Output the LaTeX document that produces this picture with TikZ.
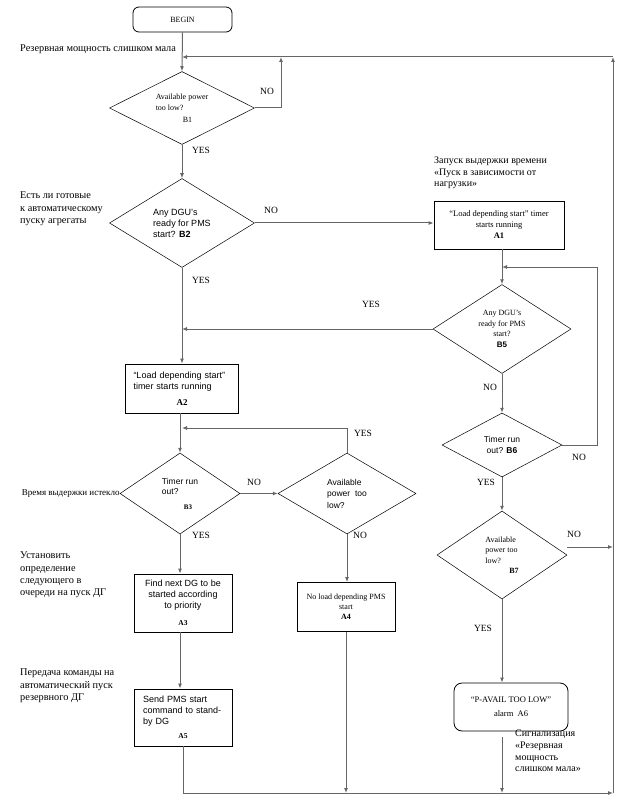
\documentclass[tikz,border=0pt]{standalone}
\usepackage{fontspec}
\setmainfont{Liberation Serif}
\setsansfont{Liberation Sans}
\usetikzlibrary{shapes.geometric,arrows.meta}

\tikzset{
  line/.style={draw=black!60, line width=1pt},
  arr/.style={line, -{Latex[length=5pt,width=4pt]}},
  decision/.style={diamond, draw, line width=0.5pt, inner sep=0pt, aspect=1.6, align=center},
  block/.style={rectangle, draw, line width=0.8pt, inner sep=0pt, align=center},
  terminal/.style={block, rounded corners=6pt},
  lbl/.style={font=\fontsize{9.5}{11}\selectfont},
  note/.style={anchor=north west, align=left, inner sep=0pt, font=\fontsize{10.3}{12.3}\selectfont},
}

\begin{document}
\begin{tikzpicture}[x=1pt,y=-1pt]
\useasboundingbox (0,0) rectangle (624,802);

% left column
\node[terminal, minimum width=99pt, minimum height=25pt, font=\fontsize{8}{9}\selectfont] (begin) at (182.5,19.5) {BEGIN};
\node[decision, minimum width=145pt, minimum height=73pt, align=left, font=\fontsize{8}{11.5}\selectfont] (B1) at (182,108) {Available power\\too low?\\\hspace*{27pt}B1};
\node[decision, minimum width=145pt, minimum height=89pt, align=left, font=\sffamily\fontsize{9}{11}\selectfont] (B2) at (182,223) {Any DGU’s\\ready for PMS\\start? \textbf{B2}};
\node[block, minimum width=113pt, minimum height=49pt, text width=97pt, align=left, font=\sffamily\fontsize{9}{11}\selectfont] (A2) at (182,388.5) {“Load depending start”\\timer starts running\par\vspace{5pt}{\centering\rmfamily\bfseries A2\par}};
\node[decision, minimum width=120pt, minimum height=81pt, align=left, font=\sffamily\fontsize{8.5}{10}\selectfont] (B3) at (180,493.5) {Timer run\\out?\\[5pt]\hspace*{22pt}{\rmfamily\bfseries\fontsize{7}{8}\selectfont B3}};
\node[block, minimum width=98pt, minimum height=58pt, font=\sffamily\fontsize{9}{11}\selectfont] (A3) at (183,603) {Find next DG to be\\started according\\to priority\\[6pt]{\rmfamily\bfseries\fontsize{7.5}{8}\selectfont A3}};
\node[block, minimum width=98pt, minimum height=57pt, text width=80pt, align=left, font=\sffamily\fontsize{9}{11}\selectfont] (A5) at (183,717.5) {Send PMS start\\command to stand-\\by DG\par\vspace{6pt}{\centering\rmfamily\bfseries\fontsize{7.5}{8}\selectfont A5\par}};

% middle column
\node[decision, minimum width=138pt, minimum height=81pt, align=left, font=\sffamily\fontsize{8.5}{11.5}\selectfont] (B4) at (347,493.5) {Available\\power\ \ too\\low?};
\node[block, minimum width=98pt, minimum height=49pt, font=\fontsize{8}{10}\selectfont] (A4) at (346,607) {No load depending PMS\\start\\\textbf{A4}};

% right column
\node[block, minimum width=130pt, minimum height=48pt, font=\fontsize{8.5}{11}\selectfont] (A1) at (499,225) {“Load depending start” timer\\starts running\\\textbf{A1}};
\node[decision, minimum width=138pt, minimum height=89pt, font=\fontsize{8}{10.5}\selectfont] (B5) at (502,329) {Any DGU’s\\ready for PMS\\start?\\\textsf{\textbf{B5}}};
\node[decision, minimum width=120pt, minimum height=64pt, font=\sffamily\fontsize{8.5}{11}\selectfont] (B6) at (502,445) {Timer run\\out? \textbf{B6}};
\node[decision, minimum width=130pt, minimum height=88pt, align=left, font=\fontsize{8}{10.5}\selectfont] (B7) at (502,555) {Available\\power too\\low?\\\hspace*{24pt}\textbf{B7}};
\node[terminal, minimum width=114pt, minimum height=48pt, rounded corners=8pt, font=\fontsize{8.5}{14}\selectfont] (A6) at (511,707) {“P-AVAIL TOO LOW”\\alarm\ \ A6};

% junctions
\coordinate (j1) at (182,57);
\coordinate (b1no) at (281,57);
\coordinate (tr) at (613,57);
\coordinate (br) at (613,793);
\coordinate (j5) at (502,267);
\coordinate (b6no) at (597,267);
\coordinate (j3) at (182,428);

% connectors
\draw[arr] (begin.south) -- (B1.north);
\draw[arr] (br) -- (tr);
\draw[arr] (tr) -- (j1);
\draw[arr] (B1.east) -| (b1no);
\draw[arr] (B1.south) -- (B2.north);
\draw[arr] (B2.east) -- (B2.east -| A1.west);
\draw[arr] (B2.south) -- (B2.south |- A2.north);
\draw[arr] (A1.south -| B5.north) -- (B5.north);
\draw[arr] (B5.west) -- (B5.west -| B2.south);
\draw[arr] (B5.south) -- (B6.north);
\draw[arr] (B6.east) -| (b6no) -- (j5);
\draw[arr] (B6.south) -- (B7.north);
\draw[arr] ([yshift=8pt]B7.east) -- ([yshift=8pt]B7.east -| br);
\draw[arr] (B7.south) -- (B7.south |- A6.north);
\draw[arr, shorten <=6pt] (A6.south -| B7.south) -- (B7.south |- br);
\draw[arr] (A2.south -| B3.north) -- (B3.north);
\draw[arr] (B4.north) |- (j3);
\draw[arr] (B3.east) -- (B4.west);
\draw[arr] (B3.south) -- (B3.south |- A3.north);
\draw[arr] (A3.south -| B3.south) -- (A5.north -| B3.south);
\draw[arr] (B4.south) -- (B4.south |- A4.north);
\draw[arr] (A4.south) -- (A4.south |- br);
\draw[arr] (A5.south) |- (br);

% branch labels
\node[lbl] at (267,91) {NO};
\node[lbl] at (201,150) {YES};
\node[lbl] at (271,210) {NO};
\node[lbl] at (201,280) {YES};
\node[lbl] at (371,304) {YES};
\node[lbl] at (490,387) {NO};
\node[lbl] at (579,457) {NO};
\node[lbl] at (486,482) {YES};
\node[lbl] at (363,433) {YES};
\node[lbl] at (254,482) {NO};
\node[lbl] at (201,535) {YES};
\node[lbl] at (360,535) {NO};
\node[lbl] at (574,534) {NO};
\node[lbl] at (483,628) {YES};

% notes
\node[note, anchor=west] at (20,49) {Резервная мощность слишком мала};
\node[note] at (20,192) {Есть ли готовые\\к автоматическому\\пуску агрегаты};
\node[note, font=\fontsize{10}{11.5}\selectfont] at (434,157) {Запуск выдержки времени\\«Пуск в зависимости от\\нагрузки»};
\node[note, anchor=east, font=\fontsize{9}{10}\selectfont] at (B3.west) {Время выдержки истекло};
\node[note] at (20,552) {Установить\\определение\\следующего в\\очереди на пуск ДГ};
\node[note] at (20,669) {Передача команды на\\автоматический пуск\\резервного ДГ};
\node[note, font=\fontsize{10}{11.7}\selectfont] at (515,730) {Сигнализация\\«Резервная\\мощность\\слишком мала»};
\end{tikzpicture}
\end{document}
